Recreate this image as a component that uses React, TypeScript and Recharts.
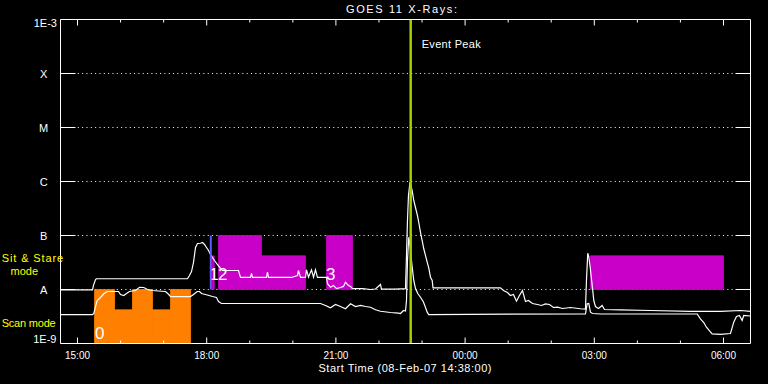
import React from 'react';
import {
  ComposedChart,
  Line,
  XAxis,
  YAxis,
  CartesianGrid,
  ReferenceArea,
  ReferenceLine,
} from 'recharts';

// ---------- axes ----------
const timeDomain: [number, number] = [14.605, 30.627]; // hours since 08-Feb-07 00:00
const hourTicks = [15, 16, 17, 18, 19, 20, 21, 22, 23, 24, 25, 26, 27, 28, 29, 30];
const majorHours = [15, 18, 21, 24, 27, 30];
const majorHourLabels = ['15:00', '18:00', '21:00', '00:00', '03:00', '06:00'];

const fluxDomain: [number, number] = [1e-9, 1e-3];
const fluxTicks = [1e-9, 1e-8, 1e-7, 1e-6, 1e-5, 1e-4, 1e-3];
const fluxTickLabels = ['1E-9', 'A', 'B', 'C', 'M', 'X', '1E-3'];

// ---------- GOES 11 channels: [hour, flux W/m^2] ----------
const longChannel: [number, number][] = [
  [14.605, 9.87e-9], [15.348, 9.87e-9], [15.371, 1.19e-8], [15.418, 1.53e-8], [15.441, 1.58e-8],
  [17.554, 1.58e-8], [17.6, 1.82e-8], [17.647, 2.15e-8], [17.693, 3.16e-8], [17.74, 6.0e-8],
  [17.786, 7.11e-8], [17.856, 7.19e-8], [17.902, 7.41e-8], [17.949, 6.81e-8], [17.995, 6.0e-8],
  [18.042, 5.27e-8], [18.088, 4.45e-8], [18.134, 3.92e-8], [18.181, 3.44e-8], [18.251, 2.9e-8],
  [18.32, 2.45e-8], [18.367, 2.25e-8], [18.738, 2.25e-8], [18.785, 1.67e-8], [19.017, 1.67e-8],
  [19.04, 1.98e-8], [19.063, 1.67e-8], [19.388, 1.67e-8], [19.411, 2.09e-8], [19.435, 1.67e-8],
  [19.969, 1.67e-8], [20.108, 1.82e-8], [20.131, 2.25e-8], [20.178, 1.67e-8], [20.294, 1.67e-8],
  [20.317, 2.32e-8], [20.364, 1.69e-8], [20.433, 2.32e-8], [20.48, 1.69e-8], [20.526, 2.32e-8],
  [20.572, 1.67e-8], [20.781, 1.67e-8], [20.805, 1.28e-8], [20.874, 1.1e-8], [20.944, 1.19e-8],
  [21.013, 1.04e-8], [21.106, 1.09e-8], [21.176, 1.14e-8], [21.222, 1.36e-8], [21.292, 1.19e-8],
  [21.339, 1.14e-8], [21.385, 1.04e-8], [21.617, 1.04e-8], [21.803, 1.0e-8], [21.919, 1.02e-8],
  [22.035, 1.24e-8], [22.058, 1.02e-8], [22.383, 1.02e-8], [22.616, 1.04e-8], [22.639, 4.27e-8],
  [22.662, 1.9e-7], [22.685, 5.5e-7], [22.72, 9.7e-7], [22.771, 6.8e-7], [22.808, 4.45e-7],
  [22.848, 3.3e-7], [22.894, 2.34e-7], [22.924, 1.74e-7], [22.964, 1.14e-7], [23.003, 8.07e-8],
  [23.04, 5.68e-8], [23.08, 4.27e-8], [23.119, 3.21e-8], [23.157, 2.48e-8], [23.196, 1.69e-8],
  [23.236, 1.47e-8], [23.254, 1.07e-8], [24.821, 1.07e-8], [24.891, 9.58e-9], [24.984, 8.8e-9],
  [25.053, 7.74e-9], [25.123, 8.07e-9], [25.193, 6.07e-9], [25.262, 7.74e-9], [25.332, 9.58e-9],
  [25.402, 6.0e-9], [25.471, 6.25e-9], [25.564, 5.51e-9], [25.68, 5.27e-9], [25.773, 5.06e-9],
  [25.866, 5.43e-9], [25.959, 5.27e-9], [26.052, 4.64e-9], [26.145, 4.7e-9], [26.261, 4.45e-9],
  [26.446, 4.64e-9], [26.679, 4.4e-9], [26.795, 4.35e-9], [26.818, 1.47e-8], [26.848, 4.7e-8],
  [26.871, 4.08e-8], [26.904, 2.59e-8], [26.934, 1.58e-8], [26.964, 9.58e-9], [26.988, 6.25e-9],
  [27.027, 4.84e-9], [27.097, 4.45e-9], [27.182, 5.06e-9], [27.236, 4.26e-9], [27.607, 4.21e-9],
  [28.304, 4.08e-9], [29.233, 3.92e-9], [29.93, 3.92e-9], [30.394, 4.08e-9], [30.627, 3.92e-9],
];

const shortChannel: [number, number][] = [
  [14.605, 3.44e-9], [15.348, 3.44e-9], [15.378, 3.59e-9], [15.418, 4.84e-9], [15.457, 6.25e-9],
  [15.534, 7.11e-9], [15.611, 8.32e-9], [15.69, 9.18e-9], [15.952, 9.18e-9], [15.998, 8.07e-9],
  [16.075, 7.74e-9], [16.138, 8.43e-9], [16.207, 9.18e-9], [16.347, 9.58e-9], [16.44, 1.1e-8],
  [16.539, 1.09e-8], [16.625, 1.0e-8], [16.734, 9.58e-9], [17.043, 9.18e-9], [17.12, 8.07e-9],
  [17.159, 7.41e-9], [17.624, 7.41e-9], [17.693, 8.07e-9], [17.779, 9.18e-9], [17.833, 9.18e-9],
  [17.879, 8.43e-9], [17.972, 8.07e-9], [18.134, 7.41e-9], [18.227, 7.11e-9], [18.274, 6.0e-9],
  [18.343, 5.51e-9], [20.642, 5.51e-9], [20.758, 5.06e-9], [20.874, 4.58e-9], [20.99, 5.27e-9],
  [21.106, 4.84e-9], [21.222, 4.4e-9], [21.339, 5.43e-9], [21.455, 4.84e-9], [21.571, 5.06e-9],
  [21.687, 4.84e-9], [21.803, 4.7e-9], [21.919, 4.21e-9], [22.035, 3.96e-9], [22.267, 3.75e-9],
  [22.453, 3.64e-9], [22.5, 3.59e-9], [22.569, 4.08e-9], [22.616, 4.0e-9], [22.639, 6.25e-9],
  [22.662, 3.44e-8], [22.692, 9.3e-8], [22.72, 6.53e-8], [22.771, 2.59e-8], [22.808, 1.47e-8],
  [22.848, 1.04e-8], [22.901, 8.43e-9], [22.964, 7.19e-9], [23.027, 6.0e-9], [23.064, 5.06e-9],
  [23.119, 3.8e-9], [23.157, 3.44e-9], [26.795, 3.55e-9], [26.834, 5.43e-9], [26.871, 5.51e-9],
  [26.911, 3.8e-9], [26.957, 3.59e-9], [27.143, 3.52e-9], [29.388, 3.52e-9], [29.465, 2.86e-9],
  [29.542, 2.45e-9], [29.604, 2.0e-9], [29.681, 1.69e-9], [29.737, 1.51e-9], [29.93, 1.47e-9],
  [30.162, 1.53e-9], [30.238, 2.48e-9], [30.301, 3.16e-9], [30.37, 3.3e-9], [30.433, 2.67e-9],
  [30.47, 3.3e-9], [30.627, 3.23e-9],
];

// ---------- Scan mode blocks (orange) ----------
const scanStarts = [15.395, 15.859, 16.277, 16.741, 17.159];
const scanEnds = [15.859, 16.277, 16.741, 17.159, 17.624];
const scanTops = [1e-8, 4.21e-9, 1e-8, 4.21e-9, 1e-8];
const scanFloor = 1e-9;
const scanLabels = ['0', '', '', '', ''];

// ---------- Sit & Stare blocks (magenta) ----------
const stareStarts = [18.127, 18.274, 19.272, 20.781, 26.911];
const stareEnds = [18.174, 19.272, 20.294, 21.385, 30.0];
const stareTops = [4.2e-8, 1e-7, 4.2e-8, 1e-7, 4.2e-8];
const stareFloor = 1e-8;
const stareLabels = ['1', '2', '', '3', ''];

// ---------- markers ----------
const eventPeakTime = 22.7365;
const blueMarkTime = 18.095;
const blueMarkRange: [number, number] = [1e-8, 1e-7];

const FONT = "'Liberation Sans', Arial, Helvetica, sans-serif";
const ORANGE = '#ff8000';
const MAGENTA = '#c800c8';
const GREEN = '#a2d200';
const BLUE = '#5a5cff';
const YELLOW = '#ffff00';

const toRows = (pts: [number, number][]) => pts.map(([t, f]) => ({ t, f }));
const longRows = toRows(longChannel);
const shortRows = toRows(shortChannel);

function BottomTick(props: any) {
  const { x, y, payload } = props;
  const i = majorHours.indexOf(payload.value);
  const len = i >= 0 ? 6 : 3;
  return (
    <g>
      <line x1={x} x2={x} y1={y} y2={y - len} stroke="#fff" strokeWidth={1} />
      {i >= 0 && (
        <text x={x} y={y + 15.2} textAnchor="middle" fill="#fff" fontSize={10} fontFamily={FONT}>
          {majorHourLabels[i]}
        </text>
      )}
    </g>
  );
}

function TopTick(props: any) {
  const { x, y, payload } = props;
  const len = majorHours.indexOf(payload.value) >= 0 ? 6 : 3;
  return <line x1={x} x2={x} y1={y} y2={y + len} stroke="#fff" strokeWidth={1} />;
}

function LeftTick(props: any) {
  const { x, y, payload } = props;
  const i = fluxTicks.indexOf(payload.value);
  const inner = i > 0 && i < fluxTicks.length - 1;
  const label = fluxTickLabels[i];
  let text;
  if (i === 0) {
    text = (
      <text x={x - 4} y={y - 0.5} textAnchor="end" fill="#fff" fontSize={11} fontFamily={FONT}>{label}</text>
    );
  } else if (i === fluxTicks.length - 1) {
    text = (
      <text x={x - 3.5} y={y + 7.2} textAnchor="end" fill="#fff" fontSize={11} fontFamily={FONT}>{label}</text>
    );
  } else {
    text = (
      <text x={x - 16.8} y={y + 4.5} textAnchor="middle" fill="#fff" fontSize={11} fontFamily={FONT}>{label}</text>
    );
  }
  return (
    <g>
      {inner && <line x1={x} x2={x + 15} y1={y} y2={y} stroke="#fff" strokeWidth={1} />}
      {text}
    </g>
  );
}

function RightTick(props: any) {
  const { x, y, payload } = props;
  const i = fluxTicks.indexOf(payload.value);
  const inner = i > 0 && i < fluxTicks.length - 1;
  return inner ? <line x1={x} x2={x - 15} y1={y} y2={y} stroke="#fff" strokeWidth={1} /> : <g />;
}

const blockLabel = (text: string, dx: number, dyFromBottom: number) => (p: any) => {
  const vb = p.viewBox || {};
  if (!text) return null;
  return (
    <text
      x={vb.x + dx}
      y={vb.y + vb.height - dyFromBottom}
      fill="#fff"
      fontSize={17}
      fontFamily={FONT}
      fontWeight={300}
    >
      {text}
    </text>
  );
};

const eventLabel = (p: any) => {
  const vb = p.viewBox || {};
  return (
    <text x={vb.x + 11} y={vb.y + 28} fill="#fff" fontSize={11} fontFamily={FONT} textLength={59} lengthAdjust="spacing">
      Event Peak
    </text>
  );
};

export default function App() {
  return (
    <div style={{ position: 'absolute', left: 0, top: 0, width: 768, height: 384, background: '#000', overflow: 'hidden' }}>
      <ComposedChart
        width={768}
        height={384}
        margin={{ top: 0.5, right: 0.5, bottom: 0, left: 0.5 }}
      >
        <CartesianGrid vertical={false} stroke="#fff" strokeDasharray="1 3.33" />
        <XAxis
          type="number"
          dataKey="t"
          domain={timeDomain}
          allowDataOverflow
          ticks={hourTicks}
          interval={0}
          height={40.5}
          tickSize={0}
          tickMargin={0}
          tickLine={false}
          axisLine={{ stroke: '#fff', strokeWidth: 1 }}
          tick={BottomTick}
        />
        <XAxis
          xAxisId="top"
          orientation="top"
          type="number"
          dataKey="t"
          domain={timeDomain}
          allowDataOverflow
          ticks={hourTicks}
          interval={0}
          height={19}
          tickSize={0}
          tickMargin={0}
          tickLine={false}
          axisLine={{ stroke: '#fff', strokeWidth: 1 }}
          tick={TopTick}
        />
        <YAxis
          type="number"
          scale="log"
          domain={fluxDomain}
          allowDataOverflow
          ticks={fluxTicks}
          interval={0}
          width={60}
          tickSize={0}
          tickMargin={0}
          tickLine={false}
          axisLine={{ stroke: '#fff', strokeWidth: 1 }}
          tick={LeftTick}
        />
        <YAxis
          yAxisId="right"
          orientation="right"
          type="number"
          scale="log"
          domain={fluxDomain}
          allowDataOverflow
          ticks={fluxTicks}
          interval={0}
          width={17}
          tickSize={0}
          tickMargin={0}
          tickLine={false}
          axisLine={{ stroke: '#fff', strokeWidth: 1 }}
          tick={RightTick}
        />

        {scanStarts.map((s, i) => (
          <ReferenceArea
            key={'scan' + i}
            x1={s}
            x2={scanEnds[i]}
            y1={scanFloor}
            y2={scanTops[i]}
            fill={ORANGE}
            fillOpacity={1}
            stroke={ORANGE}
            strokeWidth={0.8}
            strokeOpacity={1}
            label={blockLabel(scanLabels[i], 0.5, 5)}
          />
        ))}
        {stareStarts.map((s, i) => (
          <ReferenceArea
            key={'stare' + i}
            x1={s}
            x2={stareEnds[i]}
            y1={stareFloor}
            y2={stareTops[i]}
            fill={MAGENTA}
            fillOpacity={1}
            stroke={MAGENTA}
            strokeWidth={0.8}
            strokeOpacity={1}
            label={blockLabel(stareLabels[i], i === 0 ? -3 : -0.5, 10)}
          />
        ))}

        <Line
          data={longRows}
          dataKey="f"
          type="linear"
          stroke="#fff"
          strokeWidth={1.2}
          dot={false}
          activeDot={false}
          isAnimationActive={false}
        />
        <Line
          data={shortRows}
          dataKey="f"
          type="linear"
          stroke="#fff"
          strokeWidth={1.2}
          dot={false}
          activeDot={false}
          isAnimationActive={false}
        />

        <ReferenceLine
          segment={[
            { x: blueMarkTime, y: blueMarkRange[0] },
            { x: blueMarkTime, y: blueMarkRange[1] },
          ]}
          stroke={BLUE}
          strokeWidth={2}
        />
        <ReferenceLine x={eventPeakTime} stroke={GREEN} strokeWidth={2.5} label={eventLabel} />
      </ComposedChart>

      <svg
        width={768}
        height={384}
        style={{ position: 'absolute', left: 0, top: 0, pointerEvents: 'none' }}
      >
        <text x={401.5} y={12.7} textAnchor="middle" fill="#fff" fontSize={11} fontFamily={FONT} textLength={111} lengthAdjust="spacing">
          GOES 11 X-Rays:
        </text>
        <text x={405} y={371.7} textAnchor="middle" fill="#fff" fontSize={11} fontFamily={FONT} textLength={173} lengthAdjust="spacing">
          Start Time (08-Feb-07 14:38:00)
        </text>
        <text x={1.7} y={262} fill={YELLOW} fontSize={11} fontFamily={FONT} textLength={61.5} lengthAdjust="spacing">
          Sit &amp; Stare
        </text>
        <text x={24.3} y={275} textAnchor="middle" fill={YELLOW} fontSize={11} fontFamily={FONT}>
          mode
        </text>
        <text x={1.7} y={327.3} fill={YELLOW} fontSize={11} fontFamily={FONT} textLength={54} lengthAdjust="spacing">
          Scan mode
        </text>
      </svg>
    </div>
  );
}
